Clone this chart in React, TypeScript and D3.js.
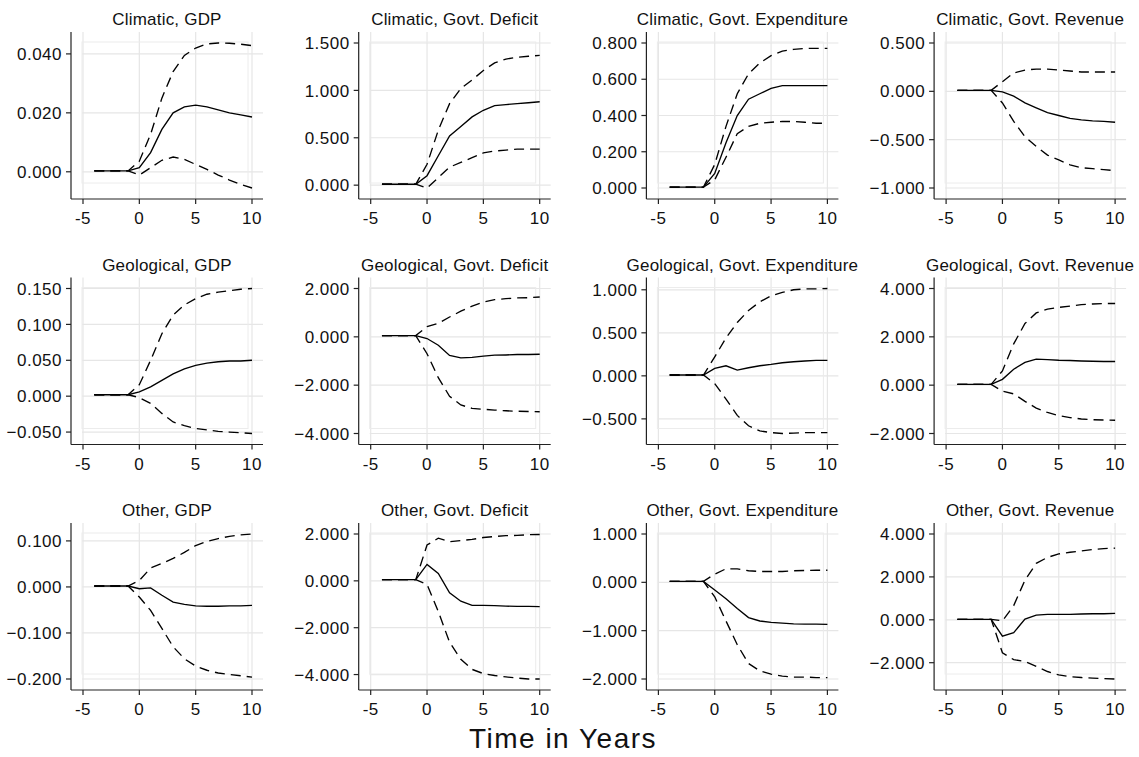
import React from 'react';
import * as d3 from 'd3';

// horizon in years
const years = [-4, -3, -2, -1, 0, 1, 2, 3, 4, 5, 6, 7, 8, 9, 10];
const xTicks = [-5, 0, 5, 10];

const shocks = ['Climatic', 'Geological', 'Other'];
const outcomes = ['GDP', 'Govt. Deficit', 'Govt. Expenditure', 'Govt. Revenue'];

// Climatic
const climGdpIrf = [0.0003, 0.0003, 0.0003, 0.0003, 0.0014, 0.0065, 0.0144, 0.02, 0.022, 0.0226, 0.022, 0.021, 0.02, 0.0193, 0.0186];
const climGdpHi = [0.0003, 0.0003, 0.0003, 0.0003, 0.0036, 0.0127, 0.025, 0.034, 0.0395, 0.042, 0.0434, 0.0437, 0.0436, 0.0433, 0.0428];
const climGdpLo = [0.0003, 0.0003, 0.0003, 0.0003, -0.0011, 0.0014, 0.0039, 0.005, 0.0042, 0.0025, 0.0008, -0.0011, -0.0028, -0.0043, -0.0055];
const climDefIrf = [0.01, 0.01, 0.01, 0.01, 0.1, 0.31, 0.52, 0.62, 0.72, 0.79, 0.84, 0.85, 0.86, 0.87, 0.88];
const climDefHi = [0.01, 0.01, 0.01, 0.01, 0.22, 0.58, 0.86, 1.02, 1.11, 1.21, 1.29, 1.33, 1.35, 1.36, 1.37];
const climDefLo = [0.01, 0.01, 0.01, 0.01, -0.03, 0.08, 0.19, 0.24, 0.29, 0.34, 0.36, 0.37, 0.38, 0.38, 0.38];
const climExpIrf = [0.005, 0.005, 0.005, 0.005, 0.08, 0.25, 0.4, 0.49, 0.52, 0.55, 0.565, 0.565, 0.565, 0.565, 0.565];
const climExpHi = [0.005, 0.005, 0.005, 0.005, 0.13, 0.34, 0.52, 0.63, 0.69, 0.73, 0.755, 0.765, 0.77, 0.77, 0.77];
const climExpLo = [0.005, 0.005, 0.005, 0.005, 0.045, 0.17, 0.3, 0.34, 0.357, 0.363, 0.367, 0.367, 0.363, 0.357, 0.357];
const climRevIrf = [0.01, 0.01, 0.01, 0.01, -0.005, -0.05, -0.12, -0.17, -0.22, -0.25, -0.28, -0.295, -0.305, -0.31, -0.32];
const climRevHi = [0.01, 0.01, 0.01, 0.01, 0.1, 0.19, 0.22, 0.23, 0.23, 0.22, 0.21, 0.2, 0.2, 0.2, 0.2];
const climRevLo = [0.01, 0.01, 0.01, 0.01, -0.12, -0.31, -0.47, -0.57, -0.66, -0.71, -0.76, -0.79, -0.8, -0.81, -0.82];

// Geological
const geoGdpIrf = [0.002, 0.002, 0.002, 0.002, 0.006, 0.013, 0.022, 0.031, 0.038, 0.043, 0.046, 0.048, 0.049, 0.049, 0.05];
const geoGdpHi = [0.002, 0.002, 0.002, 0.002, 0.016, 0.05, 0.087, 0.113, 0.127, 0.136, 0.142, 0.145, 0.147, 0.149, 0.15];
const geoGdpLo = [0.002, 0.002, 0.002, 0.002, -0.002, -0.01, -0.024, -0.036, -0.041, -0.045, -0.047, -0.049, -0.05, -0.051, -0.052];
const geoDefIrf = [0.05, 0.05, 0.05, 0.05, -0.07, -0.35, -0.77, -0.87, -0.85, -0.8, -0.76, -0.75, -0.73, -0.73, -0.72];
const geoDefHi = [0.05, 0.05, 0.05, 0.05, 0.42, 0.56, 0.82, 1.06, 1.27, 1.44, 1.54, 1.58, 1.61, 1.62, 1.65];
const geoDefLo = [0.05, 0.05, 0.05, 0.05, -0.7, -1.69, -2.46, -2.82, -2.96, -3.0, -3.03, -3.06, -3.08, -3.09, -3.1];
const geoExpIrf = [0.01, 0.01, 0.01, 0.01, 0.086, 0.117, 0.066, 0.094, 0.117, 0.133, 0.152, 0.164, 0.172, 0.18, 0.18];
const geoExpHi = [0.01, 0.01, 0.01, 0.01, 0.22, 0.44, 0.62, 0.76, 0.86, 0.93, 0.97, 1.0, 1.01, 1.01, 1.015];
const geoExpLo = [0.01, 0.01, 0.01, 0.01, -0.09, -0.27, -0.46, -0.58, -0.64, -0.66, -0.67, -0.665, -0.66, -0.66, -0.66];
const geoRevIrf = [0.03, 0.03, 0.03, 0.03, 0.24, 0.66, 0.94, 1.08, 1.06, 1.03, 1.02, 1.0, 0.99, 0.98, 0.98];
const geoRevHi = [0.03, 0.03, 0.03, 0.03, 0.59, 1.71, 2.55, 2.99, 3.15, 3.22, 3.27, 3.33, 3.36, 3.38, 3.38];
const geoRevLo = [0.03, 0.03, 0.03, 0.03, -0.25, -0.36, -0.67, -0.95, -1.13, -1.26, -1.34, -1.4, -1.43, -1.44, -1.45];

// Other
const othGdpIrf = [0.002, 0.002, 0.002, 0.002, -0.004, -0.002, -0.018, -0.033, -0.038, -0.041, -0.042, -0.042, -0.041, -0.041, -0.04];
const othGdpHi = [0.002, 0.002, 0.002, 0.002, 0.014, 0.041, 0.051, 0.062, 0.075, 0.09, 0.099, 0.105, 0.11, 0.113, 0.115];
const othGdpLo = [0.002, 0.002, 0.002, 0.002, -0.022, -0.051, -0.09, -0.13, -0.156, -0.172, -0.181, -0.187, -0.19, -0.193, -0.196];
const othDefIrf = [0.05, 0.05, 0.05, 0.05, 0.7, 0.32, -0.51, -0.87, -1.05, -1.05, -1.06, -1.08, -1.09, -1.09, -1.1];
const othDefHi = [0.05, 0.05, 0.05, 0.05, 1.53, 1.82, 1.67, 1.72, 1.77, 1.85, 1.89, 1.93, 1.94, 1.97, 1.98];
const othDefLo = [0.05, 0.05, 0.05, 0.05, -0.15, -1.31, -2.62, -3.35, -3.78, -3.96, -4.04, -4.1, -4.15, -4.19, -4.19];
const othExpIrf = [0.02, 0.02, 0.02, 0.02, -0.16, -0.34, -0.54, -0.73, -0.8, -0.83, -0.845, -0.86, -0.865, -0.865, -0.87];
const othExpHi = [0.02, 0.02, 0.02, 0.02, 0.17, 0.28, 0.28, 0.24, 0.225, 0.225, 0.225, 0.24, 0.245, 0.25, 0.25];
const othExpLo = [0.02, 0.02, 0.02, 0.02, -0.3, -0.8, -1.29, -1.68, -1.83, -1.9, -1.94, -1.96, -1.96, -1.97, -1.97];
const othRevIrf = [0.02, 0.02, 0.02, 0.02, -0.76, -0.6, 0.03, 0.22, 0.25, 0.25, 0.25, 0.27, 0.28, 0.28, 0.3];
const othRevHi = [0.02, 0.02, 0.02, 0.02, -0.05, 0.66, 1.85, 2.63, 2.91, 3.07, 3.15, 3.21, 3.28, 3.32, 3.34];
const othRevLo = [0.02, 0.02, 0.02, 0.02, -1.54, -1.86, -1.94, -2.17, -2.41, -2.57, -2.65, -2.69, -2.72, -2.74, -2.76];

// y tick values per panel (row-major)
const yTicks = [
  [0, 0.02, 0.04], [0, 0.5, 1, 1.5], [0, 0.2, 0.4, 0.6, 0.8], [-1, -0.5, 0, 0.5],
  [-0.05, 0, 0.05, 0.1, 0.15], [-4, -2, 0, 2], [-0.5, 0, 0.5, 1], [-2, 0, 2, 4],
  [-0.2, -0.1, 0, 0.1], [-4, -2, 0, 2], [-2, -1, 0, 1], [-2, 0, 2, 4],
];

const series = [
  [climGdpIrf, climGdpHi, climGdpLo], [climDefIrf, climDefHi, climDefLo],
  [climExpIrf, climExpHi, climExpLo], [climRevIrf, climRevHi, climRevLo],
  [geoGdpIrf, geoGdpHi, geoGdpLo], [geoDefIrf, geoDefHi, geoDefLo],
  [geoExpIrf, geoExpHi, geoExpLo], [geoRevIrf, geoRevHi, geoRevLo],
  [othGdpIrf, othGdpHi, othGdpLo], [othDefIrf, othDefHi, othDefLo],
  [othExpIrf, othExpHi, othExpLo], [othRevIrf, othRevHi, othRevLo],
];

const W = 1139;
const H = 757;
const font = '"Liberation Sans", Arial, sans-serif';
const fmt = d3.format('.3f');

function Panel({ idx }: { idx: number }) {
  const r = Math.floor(idx / 4);
  const c = idx % 4;
  const ax = 71 + 287.7 * c;
  const top = 32 + 245.5 * r;
  const bottom = top + 167;
  const right = ax + 192;
  const [irf, hi, lo] = series[idx];
  const ticks = yTicks[idx];
  const all = [...irf, ...hi, ...lo, ...ticks];
  const x = d3.scaleLinear().domain([-5, 10]).range([ax + 12, ax + 181]);
  const y = d3.scaleLinear().domain([d3.min(all)!, d3.max(all)!]).range([bottom - 11, top + 11]);
  const line = d3.line<number>().x((_, i) => x(years[i])).y(d => y(d));
  const title = `${shocks[r]}, ${outcomes[c]}`;
  return (
    <g>
      {/* grid */}
      {ticks.map(t => (
        <line key={'h' + t} x1={ax + 11} x2={right} y1={y(t)} y2={y(t)} stroke="#e6e6e6" strokeWidth={1.2} />
      ))}
      {xTicks.map(t => (
        <line key={'v' + t} x1={x(t)} x2={x(t)} y1={top} y2={bottom} stroke="#e6e6e6" strokeWidth={1.2} />
      ))}
      <rect x={x(-5) - 1} y={top + 10} width={x(10) - x(-5) - 3} height={bottom - top - 26} fill="none" stroke="#ececec" strokeWidth={1} />
      {/* lines */}
      <path d={line(hi)!} fill="none" stroke="#000" strokeWidth={1.35} strokeDasharray="10,6" />
      <path d={line(lo)!} fill="none" stroke="#000" strokeWidth={1.35} strokeDasharray="10,6" />
      <path d={line(irf)!} fill="none" stroke="#000" strokeWidth={1.35} />
      {/* axes */}
      <line x1={ax} x2={ax} y1={top} y2={bottom} stroke="#222" strokeWidth={1.2} />
      <line x1={ax} x2={right} y1={bottom} y2={bottom} stroke="#222" strokeWidth={1.2} />
      {ticks.map(t => (
        <g key={'yt' + t}>
          <line x1={ax - 5} x2={ax} y1={y(t)} y2={y(t)} stroke="#222" strokeWidth={1.2} />
          <text x={ax - 9} y={y(t)} dy="0.36em" textAnchor="end" fontSize={17} letterSpacing={0.5} fontFamily={font} fill="#111">
            {fmt(t)}
          </text>
        </g>
      ))}
      {xTicks.map(t => (
        <g key={'xt' + t}>
          <line x1={x(t)} x2={x(t)} y1={bottom} y2={bottom + 5} stroke="#222" strokeWidth={1.2} />
          <text x={x(t)} y={bottom + 25} textAnchor="middle" fontSize={17} letterSpacing={0.5} fontFamily={font} fill="#111">
            {t}
          </text>
        </g>
      ))}
      <text x={(ax + right) / 2} y={top - 7} textAnchor="middle" fontSize={17} letterSpacing={0.2} fontFamily={font} fill="#111">
        {title}
      </text>
    </g>
  );
}

export default function App() {
  return (
    <svg width={W} height={H} style={{ position: 'absolute', left: 0, top: 0, background: '#fff' }}>
      <rect width={W} height={H} fill="#fff" />
      {series.map((_, i) => (
        <Panel key={i} idx={i} />
      ))}
      <text x={563} y={748} textAnchor="middle" fontSize={28} fontFamily={font} letterSpacing={1.5} fill="#111">
        Time in Years
      </text>
    </svg>
  );
}
